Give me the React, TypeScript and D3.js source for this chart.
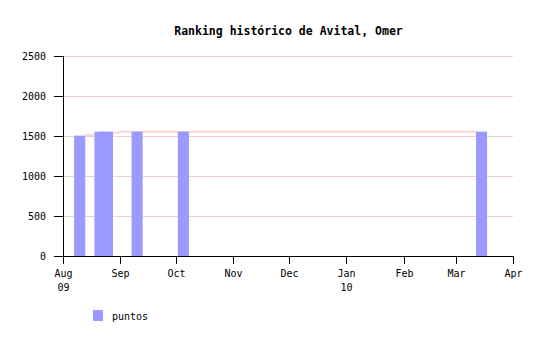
import React from "react";
import * as d3 from "d3";

const barDates = ["2009-08-07", "2009-08-18", "2009-08-22", "2009-09-07", "2009-10-02", "2010-03-12"];
const barValues = [1505, 1555, 1555, 1555, 1555, 1555];
const lineDates = ["2009-08-13", "2009-08-24", "2009-08-31", "2010-03-12"];
const lineValues = [1512, 1537, 1552, 1552];
const yTicks = [0, 500, 1000, 1500, 2000, 2500];
const xTickDates = ["2009-08-01", "2009-09-01", "2009-10-01", "2009-11-01", "2009-12-01", "2010-01-01", "2010-02-01", "2010-03-01", "2010-04-01"];
const xTickLabels = ["Aug", "Sep", "Oct", "Nov", "Dec", "Jan", "Feb", "Mar", "Apr"];
const xTickYears = ["09", "", "", "", "", "10", "", "", ""];
const barDays = 6;

const parse = (s: string) => new Date(s + "T00:00:00");

export default function App() {
  const W = 546, H = 340;
  const x = d3.scaleTime().domain([parse("2009-08-01"), parse("2010-04-01")]).range([63, 513]);
  const y = d3.scaleLinear().domain([0, 2500]).range([256, 56]);
  const font = "'DejaVu Sans Mono', monospace";
  const linePts = lineDates.map((d, i) => [x(parse(d)), y(lineValues[i])] as [number, number]);
  const linePath = d3.line().curve(d3.curveStepAfter)(linePts) || "";
  return (
    <svg width={W} height={H} style={{ position: "absolute", left: 0, top: 0, background: "#fff" }}>
      <text x={288.5} y={35} textAnchor="middle" fontFamily={font} fontSize={11.5} fontWeight="bold">
        Ranking histórico de Avital, Omer
      </text>
      {yTicks.map((t) => (
        <g key={t}>
          {t > 0 && (
            <line x1={63} x2={513} y1={y(t) + 0.5} y2={y(t) + 0.5} stroke="#e8d2ca" strokeWidth={1} />
          )}
          <line x1={54} x2={63} y1={y(t) + 0.5} y2={y(t) + 0.5} stroke="#000" />
          <text x={46} y={y(t) + 4} textAnchor="end" fontFamily={font} fontSize={10}>{t}</text>
        </g>
      ))}
      <path d={linePath} fill="none" stroke="#ffcccc" strokeWidth={1.5} />
      {barDates.map((d, i) => {
        const x0 = x(parse(d));
        const x1 = x(d3.timeDay.offset(parse(d), barDays));
        return (
          <rect key={i} x={x0} width={x1 - x0} y={y(barValues[i])} height={y(0) - y(barValues[i])} fill="#9999ff" />
        );
      })}
      <line x1={63.5} x2={63.5} y1={56} y2={256.5} stroke="#000" />
      <line x1={63} x2={514} y1={256.5} y2={256.5} stroke="#000" />
      {xTickDates.map((d, i) => {
        const px = Math.round(x(parse(d))) + 0.5;
        return (
          <g key={d}>
            <line x1={px} x2={px} y1={256} y2={264} stroke="#000" />
            <text x={px} y={277} textAnchor="middle" fontFamily={font} fontSize={10}>{xTickLabels[i]}</text>
            {xTickYears[i] && (
              <text x={px} y={291} textAnchor="middle" fontFamily={font} fontSize={10}>{xTickYears[i]}</text>
            )}
          </g>
        );
      })}
      <rect x={93} y={310} width={10} height={11} fill="#9999ff" />
      <text x={112} y={320} fontFamily={font} fontSize={10}>puntos</text>
    </svg>
  );
}
